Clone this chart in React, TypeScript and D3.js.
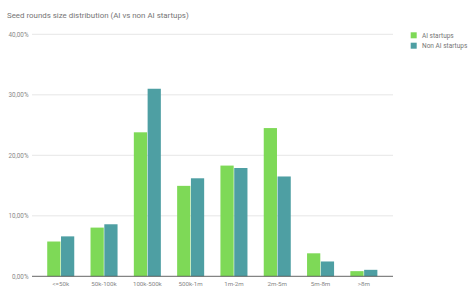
import React from "react";
import * as d3 from "d3";

const categories = ["<=50k", "50k-100k", "100k-500k", "500k-1m", "1m-2m", "2m-5m", "5m-8m", ">8m"];
const aiValues = [5.75, 8.05, 23.8, 14.95, 18.3, 24.5, 3.8, 0.85];
const nonAiValues = [6.6, 8.6, 31.0, 16.2, 17.9, 16.5, 2.45, 1.07];
const yTicks = [0, 10, 20, 30, 40];
const seriesNames = ["AI startups", "Non AI startups"];
const seriesColors = ["#7ed957", "#4e9fa3"];
const title = "Seed rounds size distribution (AI vs non AI startups)";

const W = 474;
const H = 298;
const plotLeft = 32;
const plotRight = 393;
const bandLeft = 39;
const bandRight = 385.6;
const yTop = 34.3;
const yBottom = 276.3;

export default function App() {
  const x = d3.scaleBand<string>().domain(categories).range([bandLeft, bandRight]).paddingInner(0.376).paddingOuter(0.19);
  const x1 = d3.scaleBand<string>().domain(seriesNames).range([0, x.bandwidth()]).paddingInner(0.04);
  const y = d3.scaleLinear().domain([0, 40]).range([yBottom, yTop]);
  const series = [aiValues, nonAiValues];
  const fmt = (v: number) => v.toFixed(2).replace(".", ",") + "%";
  const font = "Roboto, 'Noto Sans', sans-serif";

  return (
    <svg width={W} height={H} style={{ position: "absolute", left: 0, top: 0, background: "#fff" }} fontFamily={font}>
      <rect x={0} y={0} width={W} height={H} fill="#fff" />
      <text x={7} y={18.3} fontSize={7.9} fill="#757575">{title}</text>
      {yTicks.map((t) => (
        <g key={t}>
          {t !== 0 && (
            <line x1={plotLeft} x2={plotRight} y1={y(t)} y2={y(t)} stroke="#e0e0e0" strokeWidth={0.8} />
          )}
          <text x={28.5} y={y(t)} dy="0.35em" textAnchor="end" fontSize={6.3} fill="#888">{fmt(t)}</text>
        </g>
      ))}
      {categories.map((c, i) => (
        <g key={c}>
          {series.map((vals, s) => (
            <rect
              key={s}
              x={(x(c) as number) + (x1(seriesNames[s]) as number)}
              y={y(vals[i])}
              width={x1.bandwidth()}
              height={yBottom - y(vals[i])}
              fill={seriesColors[s]}
            />
          ))}
          <text x={(x(c) as number) + x.bandwidth() / 2} y={285.8} textAnchor="middle" fontSize={6.2} fill="#888">{c}</text>
        </g>
      ))}
      <line x1={plotLeft} x2={plotRight} y1={yBottom} y2={yBottom} stroke="#555" strokeWidth={0.9} />
      {seriesNames.map((n, s) => (
        <g key={n}>
          <rect x={410.7} y={32.3 + s * 10.4} width={6} height={6} fill={seriesColors[s]} />
          <text x={422} y={35.3 + s * 10.4} dy="0.35em" fontSize={6.5} fill="#757575">{n}</text>
        </g>
      ))}
    </svg>
  );
}
